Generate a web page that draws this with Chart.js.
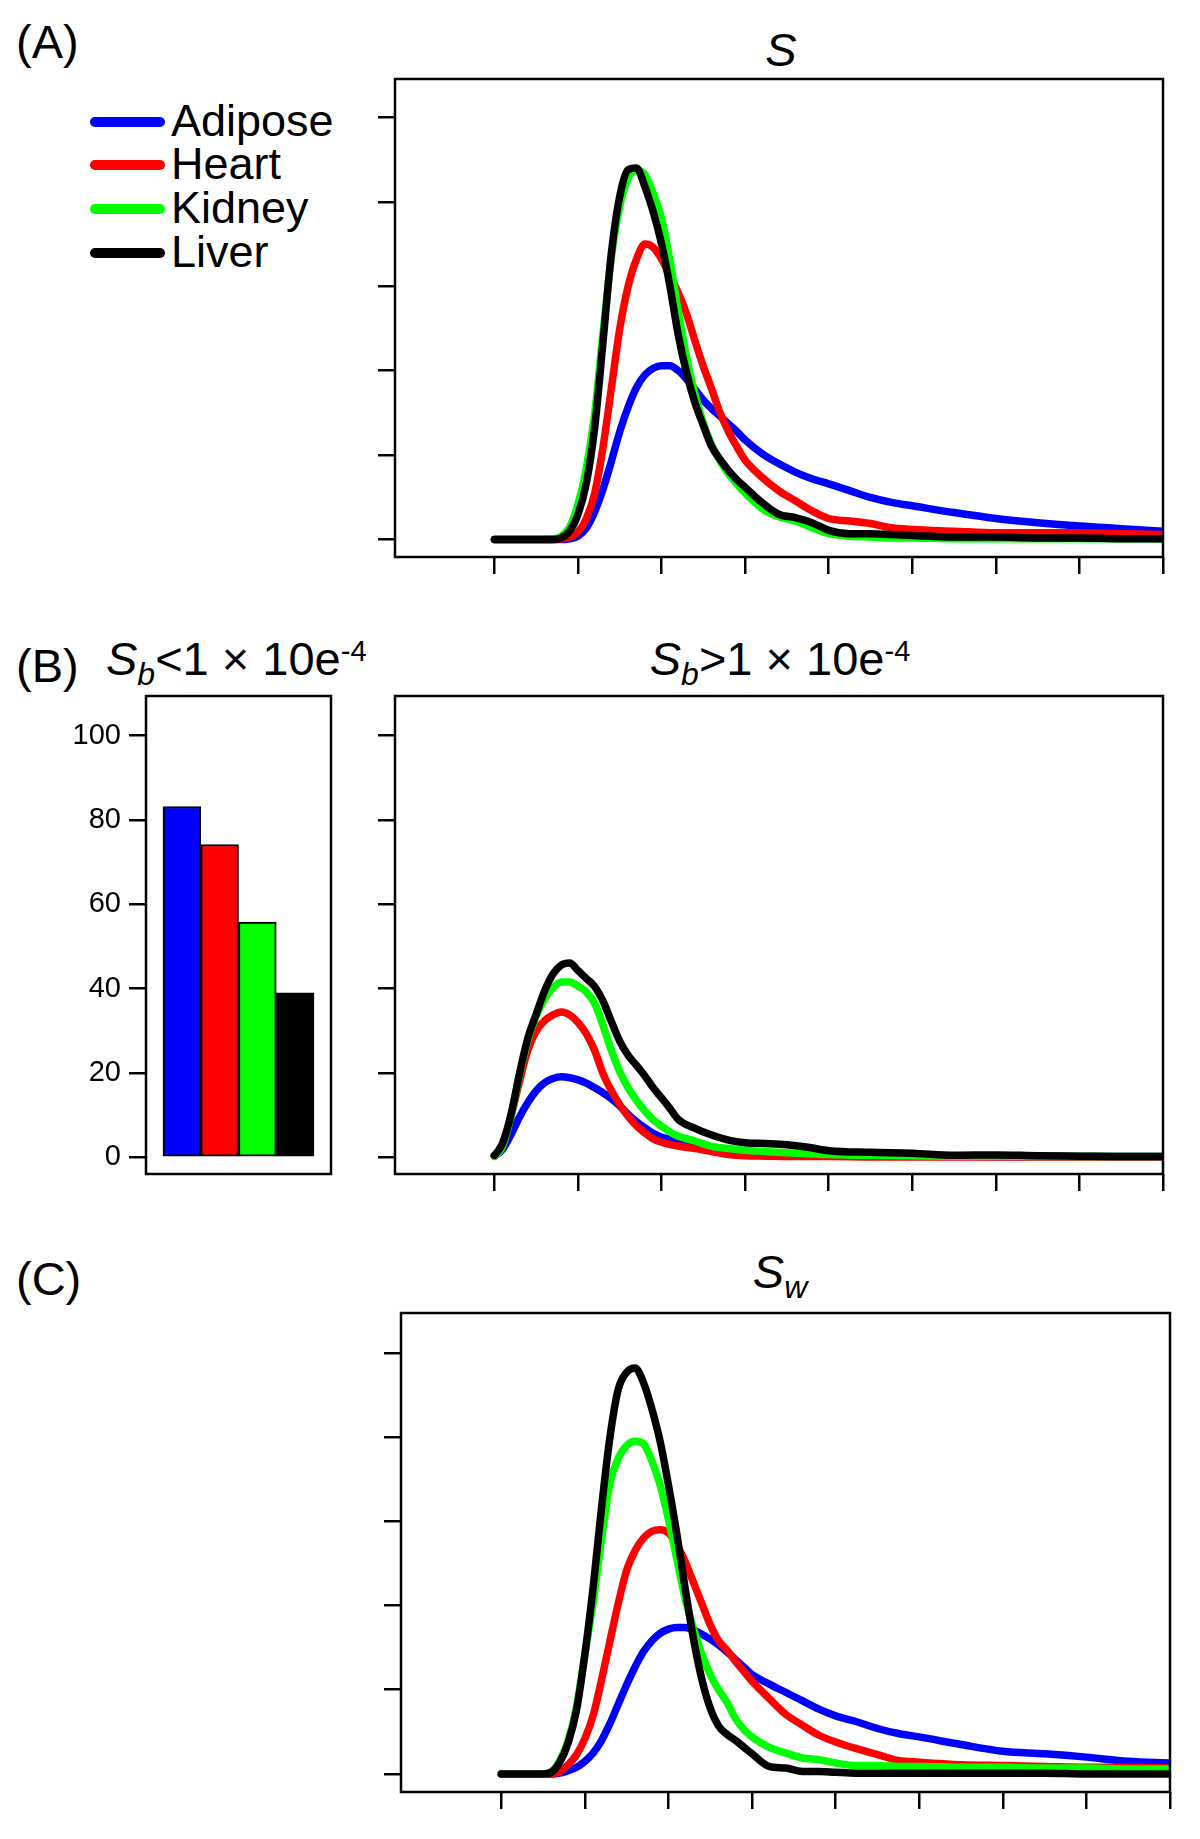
<!DOCTYPE html>
<html>
<head>
<meta charset="utf-8">
<script src="https://cdn.jsdelivr.net/npm/chart.js@4.4.1/dist/chart.umd.min.js"></script>
<style>
  html, body { margin: 0; padding: 0; background: #fff; }
  #page { position: relative; width: 1200px; height: 1839px; overflow: hidden;
          font-family: "Liberation Sans", Arial, Helvetica, sans-serif; color: #000; }
  canvas { position: absolute; }
  .txt { position: absolute; white-space: nowrap; line-height: 1; font-size: 47px; }
  .ctr { transform: translateX(-50%); }
  .sub { font-size: 32px; position: relative; top: 10px; }
  .sup { font-size: 29px; position: relative; top: -14px; }
  .swatch { position: absolute; left: 90px; width: 75px; height: 10px; border-radius: 5px; }
  .key { position: absolute; left: 171px; font-size: 45px; line-height: 1; white-space: nowrap; }
</style>
</head>
<body>
<div id="page">
  <div class="txt" style="left:16px;top:18.2px">(A)</div>
  <div class="txt ctr" style="left:781px;top:26.2px"><i>S</i></div>

  <div class="txt" style="left:16px;top:642.2px">(B)</div>
  <div class="txt" style="left:106px;top:635.2px"><i>S</i><span class="sub"><i>b</i></span>&lt;1 × 10e<span class="sup">-4</span></div>
  <div class="txt ctr" style="left:780px;top:635.2px"><i>S</i><span class="sub"><i>b</i></span>&gt;1 × 10e<span class="sup">-4</span></div>

  <div class="txt" style="left:16px;top:1255.2px">(C)</div>
  <div class="txt ctr" style="left:780px;top:1248.2px"><i>S</i><span class="sub"><i>w</i></span></div>

  <canvas id="panelA" width="801" height="511" style="left:370px;top:71px"></canvas>
  <canvas id="panelBLow" width="281" height="494" style="left:58px;top:688px"></canvas>
  <canvas id="panelBHigh" width="801" height="511" style="left:370px;top:688px"></canvas>
  <canvas id="panelC" width="802" height="512" style="left:376px;top:1305px"></canvas>
</div>

<script>
const tissues = ['Adipose', 'Heart', 'Kidney', 'Liver'];
const tissueColors = ['#0000ff', '#ff0000', '#00ff00', '#000000'];

const xTicks = [0, 1, 2, 3, 4, 5, 6, 7, 8];
const yTicksDensity = [0, 1, 2, 3, 4, 5];
const yTicksPercent = [0, 20, 40, 60, 80, 100];

// x positions (tick units) for panels A and C
const gridAC = [0, 0.5, 0.6, 0.7, 0.8, 0.9, 1.0, 1.1, 1.2, 1.3, 1.4, 1.5, 1.6, 1.7, 1.8, 1.9,
  2.0, 2.1, 2.2, 2.3, 2.4, 2.5, 2.6, 2.7, 2.8, 2.9, 3.0, 3.2, 3.4, 3.6, 3.8, 4.0,
  4.25, 4.5, 4.75, 5.0, 5.5, 6.0, 6.5, 7.0, 7.5, 8.0];

// (A) S
const sAdipose = [0, 0, 0, 0, 0, 0.01, 0.04, 0.14, 0.33, 0.6, 0.93, 1.28, 1.57, 1.8, 1.95, 2.03,
  2.06, 2.06, 2.0, 1.9, 1.78, 1.65, 1.55, 1.46, 1.37, 1.28, 1.18, 1.02, 0.9, 0.8, 0.72, 0.66,
  0.58, 0.5, 0.44, 0.4, 0.32, 0.25, 0.2, 0.16, 0.13, 0.1];
const sHeart = [0, 0, 0, 0, 0.01, 0.03, 0.09, 0.25, 0.55, 1.1, 1.8, 2.5, 3.0, 3.32, 3.5, 3.46,
  3.32, 3.12, 2.92, 2.67, 2.35, 2.05, 1.78, 1.5, 1.28, 1.1, 0.94, 0.74, 0.58, 0.46, 0.34, 0.25,
  0.22, 0.19, 0.14, 0.12, 0.1, 0.08, 0.08, 0.08, 0.07, 0.06];
const sKidney = [0, 0, 0, 0.01, 0.04, 0.15, 0.42, 0.85, 1.5, 2.45, 3.35, 3.95, 4.28, 4.38, 4.32, 4.1,
  3.8, 3.3, 2.7, 2.15, 1.72, 1.38, 1.12, 0.93, 0.78, 0.66, 0.55, 0.37, 0.27, 0.22, 0.14, 0.07,
  0.04, 0.03, 0.02, 0.02, 0.01, 0.01, 0.01, 0.01, 0.01, 0.01];
const sLiver = [0, 0, 0, 0, 0.02, 0.1, 0.3, 0.67, 1.33, 2.35, 3.4, 4.07, 4.38, 4.4, 4.18, 3.88,
  3.5, 3.0, 2.42, 1.97, 1.62, 1.35, 1.1, 0.95, 0.82, 0.71, 0.62, 0.44, 0.3, 0.26, 0.2, 0.11,
  0.07, 0.07, 0.06, 0.05, 0.03, 0.03, 0.02, 0.02, 0.01, 0.01];

// (C) Sw
const swAdipose = [0, 0, 0, 0.01, 0.04, 0.08, 0.15, 0.25, 0.4, 0.6, 0.83, 1.06, 1.27, 1.45, 1.58, 1.67,
  1.72, 1.74, 1.74, 1.71, 1.66, 1.6, 1.53, 1.45, 1.36, 1.27, 1.18, 1.07, 0.97, 0.87, 0.77, 0.69,
  0.62, 0.54, 0.48, 0.44, 0.35, 0.27, 0.24, 0.2, 0.15, 0.13];
const swHeart = [0, 0, 0, 0.03, 0.11, 0.23, 0.42, 0.7, 1.12, 1.58, 2.03, 2.42, 2.65, 2.8, 2.88, 2.9,
  2.86, 2.72, 2.52, 2.27, 2.02, 1.77, 1.58, 1.47, 1.34, 1.22, 1.1, 0.9, 0.71, 0.58, 0.46, 0.38,
  0.3, 0.23, 0.16, 0.14, 0.11, 0.1, 0.09, 0.08, 0.08, 0.07];
const swKidney = [0, 0, 0.03, 0.16, 0.4, 0.8, 1.42, 2.05, 2.8, 3.45, 3.75, 3.9, 3.95, 3.92, 3.72, 3.43,
  3.02, 2.55, 2.08, 1.72, 1.42, 1.18, 1.0, 0.85, 0.66, 0.53, 0.44, 0.32, 0.25, 0.19, 0.17, 0.13,
  0.1, 0.1, 0.09, 0.09, 0.08, 0.08, 0.07, 0.07, 0.06, 0.06];
const swLiver = [0, 0, 0.02, 0.14, 0.37, 0.76, 1.42, 2.23, 3.17, 4.0, 4.57, 4.77, 4.82, 4.65, 4.34, 3.95,
  3.43, 2.85, 2.2, 1.6, 1.12, 0.78, 0.57, 0.47, 0.4, 0.32, 0.24, 0.09, 0.07, 0.03, 0.03, 0.02,
  0.01, 0.01, 0.01, 0.01, 0.01, 0.01, 0.01, 0, 0, 0];

// (B) Sb > 1 x 10e-4, percent
const gridB = [0, 0.05, 0.1, 0.2, 0.3, 0.4, 0.5, 0.6, 0.7, 0.8, 0.9, 1.0, 1.1, 1.2, 1.3, 1.4, 1.5,
  1.6, 1.7, 1.8, 1.9, 2.0, 2.1, 2.2, 2.4, 2.6, 2.8, 3.0, 3.25, 3.5, 3.75, 4.0, 4.5, 5.0, 5.5,
  6.0, 6.5, 7.0, 7.5, 8.0];
const sbHighAdipose = [0.3, 1.0, 2.0, 5.5, 9.6, 13.0, 15.8, 17.7, 18.7, 19.1, 18.9, 18.4, 17.6, 16.5,
  15.3, 13.9, 12.2, 10.2, 8.5, 7.0, 5.7, 4.8, 4.3, 3.7, 3.1, 2.3, 1.8, 1.3, 1.0, 0.8, 0.6, 0.5,
  0.4, 0.3, 0.3, 0.2, 0.2, 0.2, 0.2, 0.2];
const sbHighHeart = [0.3, 1.2, 2.8, 10.0, 18.0, 25.5, 30.0, 32.4, 33.8, 34.5, 33.8, 32.0, 29.3, 25.3,
  19.8, 15.8, 12.5, 9.7, 7.5, 5.8, 4.4, 3.6, 3.1, 2.7, 2.1, 1.4, 0.7, 0.4, 0.3, 0.2, 0.2, 0.2,
  0.1, 0.1, 0.1, 0.1, 0.1, 0.1, 0.1, 0.1];
const sbHighKidney = [0.3, 1.2, 2.8, 10.0, 19.5, 27.8, 33.5, 37.6, 40.2, 41.6, 41.6, 40.6, 39.2, 36.5,
  31.2, 25.3, 20.3, 16.5, 13.5, 11.0, 8.9, 7.4, 6.0, 5.0, 3.9, 2.6, 2.1, 1.7, 1.4, 1.1, 0.9, 0.7,
  0.5, 0.4, 0.3, 0.3, 0.2, 0.2, 0.2, 0.2];
const sbHighLiver = [0.5, 1.7, 3.5, 10.3, 19.9, 28.3, 34.0, 39.5, 43.5, 45.6, 46.1, 44.3, 42.4, 40.5,
  37.0, 32.2, 27.5, 24.2, 21.8, 19.3, 16.5, 14.1, 11.6, 9.0, 6.9, 5.3, 4.1, 3.5, 3.3, 3.0, 2.4, 1.6,
  1.2, 1.0, 0.5, 0.6, 0.4, 0.3, 0.2, 0.2];

// (B) Sb < 1 x 10e-4, percent per tissue
const sbLowPercent = [83.2, 74.2, 55.8, 39.0];

const framePlugin = {
    id: 'frame',
    afterDraw(chart) {
        const a = chart.chartArea;
        const ctx = chart.ctx;
        ctx.save();
        ctx.lineWidth = 2.5;
        ctx.strokeStyle = '#000';
        ctx.strokeRect(a.left, a.top, a.right - a.left, a.bottom - a.top);
        ctx.restore();
    }
};

function tickAxis(position, min, max, ticks, size, showLabels) {
    return {
        type: 'linear',
        position: position,
        min: min,
        max: max,
        offset: false,
        afterBuildTicks: axis => { axis.ticks = ticks.map(v => ({ value: v })); },
        afterFit: axis => {
            if (position === 'bottom') axis.height = size; else axis.width = size;
            axis.paddingTop = 0; axis.paddingBottom = 0;
            axis.paddingLeft = 0; axis.paddingRight = 0;
        },
        ticks: {
            display: !!showLabels,
            color: '#000',
            padding: 8,
            font: { family: '"Liberation Sans", Arial, sans-serif', size: 29 }
        },
        grid: { drawOnChartArea: false, drawTicks: true, tickLength: 17, lineWidth: 2.5, color: '#000' },
        border: { display: false }
    };
}

function baseOptions(scales) {
    return {
        responsive: false,
        animation: false,
        devicePixelRatio: 1,
        events: [],
        layout: { padding: 8 },
        plugins: { legend: { display: false }, tooltip: { enabled: false } },
        scales: scales
    };
}

function lineDatasets(grid, series) {
    return tissues.map((name, i) => ({
        label: name,
        data: grid.map((x, k) => ({ x: x, y: series[i][k] })),
        borderColor: tissueColors[i],
        borderWidth: 7.5,
        pointRadius: 0,
        cubicInterpolationMode: 'monotone',
        borderCapStyle: 'round',
        borderJoinStyle: 'round',
        fill: false,
        order: tissues.length - i
    }));
}

function linePanel(id, grid, series, xMin, yMin, yMax, yTicks) {
    new Chart(document.getElementById(id), {
        type: 'line',
        data: { datasets: lineDatasets(grid, series) },
        options: baseOptions({
            x: tickAxis('bottom', xMin, 8, xTicks, 17),
            y: tickAxis('left', yMin, yMax, yTicks, 17)
        }),
        plugins: [framePlugin]
    });
}

document.addEventListener('DOMContentLoaded', function() {
    // legend, top left of panel A
    const page = document.getElementById('page');
    tissues.forEach((name, i) => {
        const cy = 121.7 + i * 43.7;
        const sw = document.createElement('div');
        sw.className = 'swatch';
        sw.style.top = (cy - 5) + 'px';
        sw.style.background = tissueColors[i];
        page.appendChild(sw);
        const key = document.createElement('div');
        key.className = 'key';
        key.style.top = (cy + 14 - 0.8466 * 45) + 'px';
        key.textContent = name;
        page.appendChild(key);
    });

    linePanel('panelA', gridAC, [sAdipose, sHeart, sKidney, sLiver], -1.19, -0.206, 5.454, yTicksDensity);
    linePanel('panelBHigh', gridB, [sbHighAdipose, sbHighHeart, sbHighKidney, sbHighLiver], -1.19, -3.93, 109.4, yTicksPercent);
    linePanel('panelC', gridAC, [swAdipose, swHeart, swKidney, swLiver], -1.2, -0.214, 5.473, yTicksDensity);

    const barX = sbLowPercent.map((v, i) => i + 0.5);
    new Chart(document.getElementById('panelBLow'), {
        type: 'bar',
        data: {
            datasets: [{
                label: 'Sb < 1e-4',
                data: sbLowPercent.map((v, i) => ({ x: barX[i], y: v })),
                backgroundColor: tissueColors,
                borderColor: '#000',
                borderWidth: 2,
                borderSkipped: false,
                barPercentage: 1,
                categoryPercentage: 1
            }]
        },
        options: baseOptions({
            x: {
                type: 'linear',
                min: -0.45,
                max: 4.45,
                offset: false,
                display: false,
                afterBuildTicks: axis => { axis.ticks = barX.map(v => ({ value: v })); }
            },
            y: tickAxis('left', -3.93, 109.4, yTicksPercent, 80, true)
        }),
        plugins: [framePlugin]
    });
});
</script>
</body>
</html>
